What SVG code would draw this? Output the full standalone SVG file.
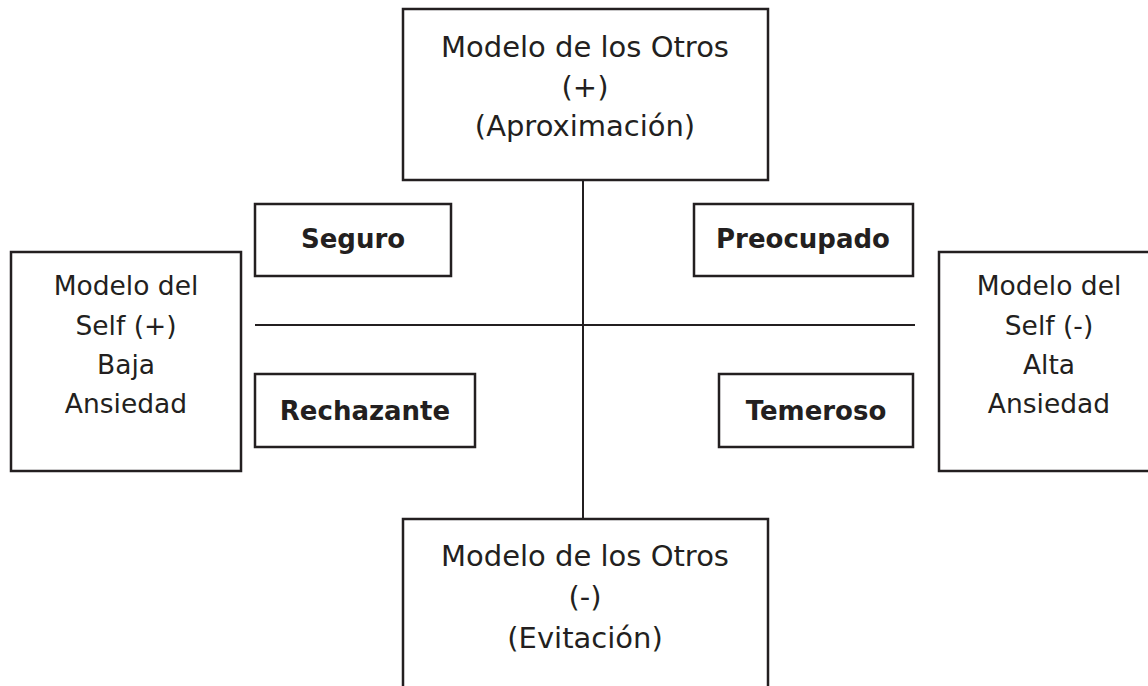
<svg xmlns="http://www.w3.org/2000/svg" width="1148" height="686" viewBox="0 0 1148 686">
<style>
.box{fill:#fff;stroke:#231f20;stroke-width:2.5}
.ln{stroke:#231f20;stroke-width:2;fill:none}
.t{font-family:"DejaVu Sans",sans-serif;font-size:26.5px;fill:#231f20;text-anchor:middle}
.tl{font-family:"DejaVu Sans",sans-serif;font-size:29px;fill:#231f20;text-anchor:middle}
.b{font-family:"DejaVu Sans",sans-serif;font-size:26px;font-weight:bold;fill:#231f20;text-anchor:middle}
</style>
<rect width="1148" height="686" fill="#fff"/>
<g id="connectors">
<line class="ln" x1="583" y1="180" x2="583" y2="519"/>
<line class="ln" x1="255" y1="325" x2="915" y2="325"/>
</g>
<g id="otros-pos">
<rect class="box" x="403" y="9" width="365" height="171"/>
<text class="tl" x="585" y="57">Modelo de los Otros</text>
<text class="tl" x="585" y="97">(+)</text>
<text class="tl" x="585" y="136">(Aproximación)</text>
</g>
<g id="otros-neg">
<rect class="box" x="403" y="519" width="365" height="180"/>
<text class="tl" x="585" y="566">Modelo de los Otros</text>
<text class="tl" x="585" y="607">(-)</text>
<text class="tl" x="585" y="648">(Evitación)</text>
</g>
<g id="self-pos">
<rect class="box" x="11" y="252" width="230" height="219"/>
<text class="t" x="126" y="295">Modelo del</text>
<text class="t" x="126" y="335">Self (+)</text>
<text class="t" x="126" y="374">Baja</text>
<text class="t" x="126" y="413">Ansiedad</text>
</g>
<g id="self-neg">
<rect class="box" x="939" y="252" width="230" height="219"/>
<text class="t" x="1049" y="295">Modelo del</text>
<text class="t" x="1049" y="335">Self (-)</text>
<text class="t" x="1049" y="374">Alta</text>
<text class="t" x="1049" y="413">Ansiedad</text>
</g>
<g id="seguro">
<rect class="box" x="255" y="204" width="196" height="72"/>
<text class="b" x="353" y="248">Seguro</text>
</g>
<g id="preocupado">
<rect class="box" x="694" y="204" width="219" height="72"/>
<text class="b" x="803" y="248">Preocupado</text>
</g>
<g id="rechazante">
<rect class="box" x="255" y="374" width="220" height="73"/>
<text class="b" x="365" y="420">Rechazante</text>
</g>
<g id="temeroso">
<rect class="box" x="719" y="374" width="194" height="73"/>
<text class="b" x="816" y="420">Temeroso</text>
</g>
</svg>
